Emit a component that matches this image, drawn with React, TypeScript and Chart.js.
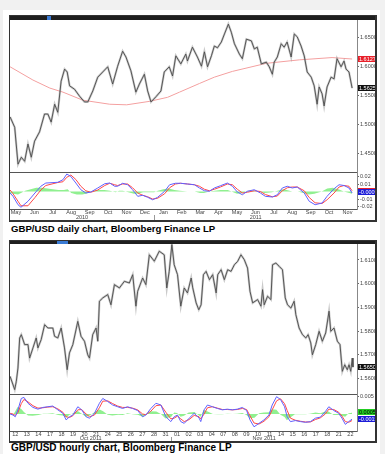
import React, { useEffect, useRef } from 'react';
import { Chart, registerables } from 'chart.js';
Chart.register(...registerables);

const FONT = 'Arial, "Liberation Sans", sans-serif';

// ---------------- DAILY CHART (May 2010 - Nov 2011) ----------------
// x unit: months since 1 May 2010
const dailyMonths = ['May', 'Jun', 'Jul', 'Aug', 'Sep', 'Oct', 'Nov', 'Dec', 'Jan', 'Feb', 'Mar', 'Apr', 'May', 'Jun', 'Jul', 'Aug', 'Sep', 'Oct', 'Nov'];
const dailyYears = ['2010', '2011'];
const dailyYearEdges = [0.175, 8, 19.015];
const dailyPriceTicks = [1.45, 1.5, 1.55, 1.6, 1.65];
const dailyMacdTicks = [0.02, 0.01, -0.01, -0.02];

const dailyT = [0.18, 0.43, 0.61, 0.79, 0.97, 1.15, 1.33, 1.51, 1.78, 2.05, 2.23, 2.41, 2.60, 2.77, 2.95, 3.14, 3.28, 3.41, 3.68, 3.95, 4.22, 4.40, 4.67, 4.94, 5.21, 5.48, 5.75, 6.02, 6.29, 6.47, 6.74, 7.01, 7.20, 7.47, 7.65, 7.83, 8.10, 8.37, 8.55, 8.82, 9.00, 9.18, 9.45, 9.72, 9.81, 10.08, 10.35, 10.57, 10.73, 10.90, 11.11, 11.27, 11.44, 11.65, 11.82, 12.03, 12.19, 12.36, 12.63, 12.79, 13.01, 13.28, 13.44, 13.60, 13.82, 14.09, 14.25, 14.42, 14.52, 14.69, 14.90, 15.06, 15.22, 15.44, 15.61, 15.77, 15.98, 16.15, 16.31, 16.53, 16.69, 16.85, 16.96, 17.12, 17.23, 17.39, 17.61, 17.77, 17.93, 18.15, 18.31, 18.42, 18.58, 18.75];
const dailyClose = [1.513, 1.495, 1.431, 1.443, 1.436, 1.466, 1.443, 1.471, 1.487, 1.518, 1.518, 1.504, 1.535, 1.521, 1.575, 1.596, 1.591, 1.567, 1.561, 1.549, 1.539, 1.539, 1.558, 1.582, 1.591, 1.600, 1.570, 1.601, 1.627, 1.617, 1.593, 1.556, 1.570, 1.587, 1.558, 1.539, 1.548, 1.558, 1.591, 1.600, 1.584, 1.619, 1.605, 1.622, 1.610, 1.634, 1.617, 1.601, 1.626, 1.600, 1.619, 1.636, 1.633, 1.643, 1.657, 1.674, 1.660, 1.640, 1.622, 1.614, 1.648, 1.645, 1.631, 1.634, 1.605, 1.608, 1.600, 1.587, 1.608, 1.617, 1.640, 1.634, 1.643, 1.617, 1.657, 1.652, 1.636, 1.619, 1.591, 1.582, 1.567, 1.535, 1.565, 1.553, 1.532, 1.565, 1.582, 1.579, 1.614, 1.600, 1.610, 1.596, 1.591, 1.563];

const dailyMaT = [0.18, 1.42, 2.34, 3.05, 4.13, 5.59, 6.51, 7.75, 8.73, 9.38, 10.46, 11.27, 12.25, 14.09, 15.88, 17.66, 18.75];
const dailyMa = [1.600, 1.577, 1.563, 1.556, 1.542, 1.535, 1.534, 1.540, 1.547, 1.556, 1.571, 1.582, 1.592, 1.606, 1.612, 1.616, 1.6135];

const dailyMacdT = [0.18, 0.34, 0.61, 0.77, 1.15, 1.53, 1.85, 2.12, 2.77, 3.05, 3.26, 3.48, 3.75, 4.02, 4.29, 4.56, 4.94, 5.32, 5.59, 5.86, 6.02, 6.29, 6.56, 6.83, 7.11, 7.38, 7.65, 7.92, 8.19, 8.57, 8.84, 9.16, 9.43, 9.81, 10.19, 10.46, 10.73, 11.00, 11.27, 11.60, 11.98, 12.25, 12.52, 12.79, 13.06, 13.44, 13.77, 14.04, 14.42, 14.69, 14.96, 15.23, 15.50, 15.77, 16.15, 16.42, 16.74, 17.12, 17.39, 17.77, 18.04, 18.31, 18.58, 18.75];
const dailyMacd = [-0.002, -0.0064, -0.0176, -0.021, -0.013, -0.002, 0.007, 0.0113, 0.0123, 0.0157, 0.0233, 0.020, 0.0113, 0.0024, -0.002, -0.0007, 0.0047, 0.0104, 0.0113, 0.007, 0.007, 0.011, 0.009, 0.0024, -0.0064, -0.005, -0.0077, -0.011, -0.0077, 0.0003, 0.009, 0.011, 0.011, 0.010, 0.009, 0.0047, 0.001, 0.0003, 0.0047, 0.0077, 0.0113, 0.007, -0.0007, -0.0043, 0.0003, 0.0024, -0.002, -0.0064, -0.0073, -0.0043, 0.0047, 0.007, 0.0047, 0.006, -0.002, -0.013, -0.0176, -0.0153, -0.0064, 0.0037, 0.009, 0.008, 0.0047, -0.002];
const dailySignal = [0.002, -0.003, -0.013, -0.019, -0.019, -0.008, 0.002, 0.008, 0.012, 0.013, 0.019, 0.022, 0.016, 0.007, 0.001, -0.001, 0.002, 0.008, 0.011, 0.009, 0.008, 0.010, 0.010, 0.005, -0.002, -0.005, -0.007, -0.010, -0.009, -0.003, 0.005, 0.010, 0.011, 0.010, 0.009, 0.007, 0.003, 0.001, 0.003, 0.006, 0.010, 0.009, 0.003, -0.002, -0.001, 0.001, 0.000, -0.004, -0.007, -0.006, 0.001, 0.005, 0.006, 0.006, 0.001, -0.008, -0.015, -0.016, -0.011, -0.002, 0.006, 0.008, 0.007, 0.001];
const dailyHistT = [0.18, 0.34, 0.61, 0.77, 1.0, 1.3, 1.6, 1.9, 2.2, 2.5, 2.8, 3.1, 3.3, 3.5, 3.8, 4.1, 4.3, 4.6, 4.9, 5.3, 5.6, 5.9, 6.1, 6.3, 6.6, 6.9, 7.1, 7.4, 7.7, 8.0, 8.2, 8.5, 8.8, 9.1, 9.4, 9.8, 10.2, 10.5, 10.7, 11.0, 11.3, 11.6, 12.0, 12.3, 12.5, 12.8, 13.1, 13.4, 13.8, 14.0, 14.4, 14.7, 15.0, 15.2, 15.5, 15.8, 16.1, 16.4, 16.7, 17.1, 17.4, 17.7, 18.0, 18.3, 18.6, 18.75];
const dailyHist = [-0.002, -0.003, -0.004, -0.002, 0.001, 0.003, 0.005, 0.005, 0.004, 0.003, 0.002, 0.002, 0.003, -0.002, -0.004, -0.004, -0.003, 0.000, 0.002, 0.002, 0.001, -0.001, 0.001, 0.001, -0.001, -0.003, -0.003, -0.001, -0.001, -0.001, 0.001, 0.003, 0.004, 0.002, 0.001, 0.000, 0.000, -0.002, -0.002, 0.000, 0.001, 0.002, 0.002, -0.001, -0.003, -0.002, 0.001, 0.001, -0.001, -0.002, -0.001, 0.001, 0.003, 0.002, 0.000, 0.000, -0.002, -0.004, -0.003, 0.000, 0.004, 0.005, 0.003, 0.000, -0.002, -0.003];
const dailyTagValues = [1.6127, 1.5625, 0.001, -0.0009];
const dailyTagTexts = ['1.6127', '1.5625', '0.001', '-0.0009'];

// ---------------- HOURLY CHART (12 Oct - 22 Nov 2011) ----------------
// x unit: trading-day index (0 = 12 Oct)
const hourlyDays = ['12', '13', '14', '17', '18', '19', '20', '21', '24', '25', '26', '27', '28', '31', '01', '02', '03', '04', '07', '08', '09', '10', '11', '14', '15', '16', '17', '18', '21', '22'];
const hourlyMonths = ['Oct 2011', 'Nov 2011'];
const hourlyMonthEdges = [-0.457, 13.5, 29.57];
const hourlyPriceTicks = [1.56, 1.57, 1.58, 1.59, 1.6, 1.61];
const hourlyMacdTicks = [0.005];

const hourlyT = [-0.45, -0.05, 0.09, 0.23, 0.38, 0.52, 0.81, 1.10, 1.24, 1.53, 1.81, 1.96, 2.24, 2.54, 2.82, 3.25, 3.40, 3.68, 3.97, 4.26, 4.49, 4.69, 4.98, 5.41, 5.69, 5.99, 6.27, 6.42, 6.70, 6.99, 7.14, 7.28, 7.57, 8.00, 8.28, 8.58, 9.01, 9.44, 9.87, 10.16, 10.44, 10.59, 11.02, 11.30, 11.60, 12.03, 12.46, 12.89, 13.11, 13.32, 13.55, 13.75, 14.04, 14.32, 14.62, 14.90, 15.22, 15.36, 15.65, 15.88, 16.08, 16.28, 16.51, 16.80, 17.08, 17.38, 17.52, 17.81, 18.09, 18.38, 18.67, 18.96, 19.24, 19.53, 19.82, 20.10, 20.31, 20.54, 20.97, 21.26, 21.40, 21.54, 21.83, 22.12, 22.26, 22.55, 22.84, 23.12, 23.36, 23.56, 23.85, 24.13, 24.28, 24.56, 24.85, 25.14, 25.34, 25.57, 25.71, 26.00, 26.29, 26.57, 26.86, 27.15, 27.30, 27.58, 27.87, 28.10, 28.30, 28.51, 28.73, 28.88, 29.03, 29.16, 29.22];
const hourlyClose = [1.5609, 1.5553, 1.5588, 1.5644, 1.5771, 1.5785, 1.5743, 1.5743, 1.5686, 1.5729, 1.5771, 1.5729, 1.5764, 1.5827, 1.5813, 1.5813, 1.5778, 1.5771, 1.5813, 1.5729, 1.5637, 1.5708, 1.5743, 1.5841, 1.5778, 1.5757, 1.5700, 1.5686, 1.5785, 1.5813, 1.5757, 1.5926, 1.5940, 1.5954, 1.5911, 1.5996, 1.5982, 1.6010, 1.6003, 1.6038, 1.5905, 1.5968, 1.6024, 1.5996, 1.6122, 1.6095, 1.6137, 1.6122, 1.5982, 1.6052, 1.6165, 1.6080, 1.6038, 1.5905, 1.5982, 1.5961, 1.6024, 1.5982, 1.5919, 1.5890, 1.5911, 1.6038, 1.6052, 1.6017, 1.6038, 1.5961, 1.6038, 1.6059, 1.6017, 1.6059, 1.6052, 1.6080, 1.6094, 1.6122, 1.6101, 1.6066, 1.5968, 1.5919, 1.5933, 1.5905, 1.5975, 1.5911, 1.5947, 1.5933, 1.6080, 1.6087, 1.6073, 1.6059, 1.5940, 1.5911, 1.5897, 1.5926, 1.5869, 1.5813, 1.5785, 1.5771, 1.5785, 1.5750, 1.5700, 1.5743, 1.5799, 1.5757, 1.5792, 1.5884, 1.5799, 1.5813, 1.5757, 1.5743, 1.5630, 1.5658, 1.5637, 1.5658, 1.5630, 1.5686, 1.5648];

const hourlyMacdT = [-0.45, -0.20, 0, 0.23, 0.52, 0.75, 1.10, 1.53, 1.96, 2.39, 2.82, 3.25, 3.68, 4.12, 4.40, 4.69, 4.98, 5.41, 5.75, 6.13, 6.42, 6.85, 7.28, 7.57, 8.00, 8.43, 8.86, 9.29, 9.72, 10.15, 10.59, 11.02, 11.30, 11.73, 12.17, 12.60, 13.03, 13.46, 13.75, 14.04, 14.32, 14.62, 15.05, 15.48, 15.91, 16.05, 16.34, 16.63, 17.06, 17.49, 17.92, 18.35, 18.78, 19.21, 19.65, 20.02, 20.31, 20.66, 21.09, 21.52, 21.95, 22.23, 22.61, 22.95, 23.30, 23.53, 23.81, 24.24, 24.68, 25.11, 25.54, 25.97, 26.40, 26.83, 27.13, 27.56, 27.99, 28.27, 28.56, 28.85, 29.14];
const hourlyMacd = [0, -0.0003, -0.0008, 0.0012, 0.0045, 0.0048, 0.0031, 0.0019, 0.0014, 0.0019, 0.0021, 0.0023, 0.0012, 0.0002, -0.0017, -0.0008, -0.0003, 0.0021, 0.0012, -0.0008, -0.0012, 0.0002, 0.0031, 0.0045, 0.0036, 0.0026, 0.0021, 0.0016, 0.0021, 0.0016, 0.001, -0.0008, -0.0003, 0.0016, 0.0031, 0.0026, -0.0008, -0.0022, -0.0008, -0.0003, -0.0022, -0.0027, -0.0012, 0.0002, -0.0012, -0.0022, 0.0012, 0.0026, 0.0021, 0.0016, 0.0012, 0.0014, 0.0012, 0.0014, 0.0019, 0.001, -0.0017, -0.0037, -0.0027, -0.0017, -0.0003, 0.0026, 0.005, 0.0042, 0.0021, -0.0008, -0.0022, -0.0019, -0.0022, -0.0024, -0.0022, -0.0012, -0.0009, 0.0007, 0.0021, 0.001, 0.0002, -0.0012, -0.003, -0.0022, -0.0015];
const hourlySignal = [0.0002, 0.0000, -0.0004, 0.0004, 0.0030, 0.0042, 0.0035, 0.0024, 0.0017, 0.0018, 0.0020, 0.0021, 0.0015, 0.0005, -0.0008, -0.0010, -0.0005, 0.0012, 0.0013, 0.0000, -0.0008, -0.0003, 0.0018, 0.0037, 0.0038, 0.0030, 0.0023, 0.0019, 0.0019, 0.0017, 0.0012, 0.0000, -0.0002, 0.0008, 0.0024, 0.0026, 0.0005, -0.0014, -0.0012, -0.0006, -0.0014, -0.0022, -0.0016, -0.0004, -0.0008, -0.0014, 0.0000, 0.0018, 0.0021, 0.0017, 0.0013, 0.0013, 0.0012, 0.0013, 0.0016, 0.0013, -0.0005, -0.0026, -0.0029, -0.0021, -0.0008, 0.0012, 0.0038, 0.0044, 0.0030, 0.0010, -0.0012, -0.0018, -0.0021, -0.0023, -0.0023, -0.0016, -0.0011, 0.0000, 0.0014, 0.0013, 0.0005, -0.0006, -0.0022, -0.0024, -0.0019];
const hourlyHistT = [-0.45, -0.2, 0.0, 0.2, 0.5, 0.75, 1.1, 1.5, 2.0, 2.4, 2.8, 3.25, 3.7, 4.1, 4.4, 4.7, 5.0, 5.4, 5.75, 6.1, 6.4, 6.85, 7.3, 7.6, 8.0, 8.4, 8.9, 9.3, 9.7, 10.15, 10.6, 11.0, 11.3, 11.7, 12.2, 12.6, 13.0, 13.5, 13.75, 14.0, 14.3, 14.6, 15.0, 15.5, 15.9, 16.05, 16.3, 16.6, 17.1, 17.5, 17.9, 18.35, 18.8, 19.2, 19.65, 20.0, 20.3, 20.7, 21.1, 21.5, 21.95, 22.2, 22.6, 22.95, 23.3, 23.5, 23.8, 24.2, 24.7, 25.1, 25.5, 25.97, 26.4, 26.8, 27.1, 27.55, 28.0, 28.3, 28.55, 28.85, 29.14];
const hourlyHist = [0, -0.0003, 0.0008, 0.0020, 0.0015, 0.0006, -0.0004, -0.0005, -0.0003, 0.0001, 0.0001, 0.0002, -0.0003, -0.0004, -0.0010, -0.0002, 0.0002, 0.0009, 0.0001, -0.0008, -0.0005, 0.0005, 0.0013, 0.0008, -0.0002, -0.0004, -0.0002, -0.0003, 0.0002, -0.0001, -0.0002, -0.0008, -0.0001, 0.0008, 0.0007, 0.0000, -0.0013, -0.0008, 0.0004, 0.0003, -0.0008, -0.0005, 0.0004, 0.0006, -0.0004, -0.0008, 0.0012, 0.0008, 0.0000, -0.0001, -0.0001, 0.0001, 0.0000, 0.0001, 0.0003, -0.0003, -0.0012, -0.0011, 0.0002, 0.0004, 0.0005, 0.0014, 0.0012, -0.0002, -0.0009, -0.0018, -0.0010, -0.0001, -0.0001, -0.0001, 0.0001, 0.0004, 0.0002, 0.0007, 0.0007, -0.0003, -0.0003, -0.0006, -0.0008, 0.0002, 0.0004];
const hourlyTagValues = [1.5650, 0.00058, -0.00153];
const hourlyTagTexts = ['1.5650', '0.00058', '-0.00153'];

// ---------------------------------------------------------------------
const pts = (xs: number[], ys: number[]) => xs.map((x, i) => ({ x, y: ys[i] }));

function makeConfig(p: any) {
  const tickFont = { family: FONT, size: 5.5 };
  const decor = {
    id: 'decor',
    afterDraw(chart: any) {
      const { ctx, chartArea } = chart;
      const xs = chart.scales.x;
      const yP = chart.scales.yP;
      ctx.save();
      ctx.strokeStyle = '#555';
      ctx.lineWidth = 1;
      const sy = Math.round(yP.bottom) + 0.5;
      ctx.beginPath();
      ctx.moveTo(chartArea.left, sy);
      ctx.lineTo(chartArea.right, sy);
      ctx.stroke();
      // period labels under the x axis
      ctx.font = `5.5px ${FONT}`;
      ctx.fillStyle = '#444';
      ctx.textAlign = 'center';
      ctx.textBaseline = 'bottom';
      p.spanLabels.forEach((lab: string, i: number) => {
        const a = xs.getPixelForValue(p.spanEdges[i]);
        const b = xs.getPixelForValue(p.spanEdges[i + 1]);
        ctx.fillText(lab, (a + b) / 2, xs.bottom);
      });
      ctx.strokeStyle = '#999';
      p.spanEdges.slice(1, -1).forEach((v: number) => {
        const px = Math.round(xs.getPixelForValue(v)) + 0.5;
        ctx.beginPath();
        ctx.moveTo(px, xs.top + 6);
        ctx.lineTo(px, xs.bottom);
        ctx.stroke();
      });
      // value tags on the right axis
      ctx.textAlign = 'left';
      ctx.textBaseline = 'middle';
      p.tags.forEach((t: any, i: number) => {
        const sc = chart.scales[t.axis];
        const y = Math.round(sc.getPixelForValue(p.tagValues[i]));
        const x0 = chartArea.right + 1;
        ctx.fillStyle = t.bg;
        ctx.fillRect(x0, y - 3, 19, 6);
        ctx.fillStyle = t.fg;
        ctx.fillText(p.tagTexts[i], x0 + 1, y + 0.5);
      });
      ctx.restore();
    },
  };

  const yCommon = (ticks: number[], fmt: (v: number) => string) => ({
    type: 'linear',
    position: 'right',
    stack: 'panel',
    afterBuildTicks: (s: any) => { s.ticks = ticks.map((v) => ({ value: v })); },
    afterFit: (s: any) => { s.width = 18; s.paddingTop = 0; s.paddingBottom = 0; },
    ticks: { callback: (v: any) => fmt(Number(v)), font: tickFont, color: '#444', padding: 1, autoSkip: false },
    grid: { drawOnChartArea: false, tickLength: 2, color: '#666' },
    border: { display: true, color: '#888' },
  });

  const datasets: any[] = [
    { data: pts(p.closeT, p.close), borderColor: '#4a4a4a', borderWidth: 0.9, yAxisID: 'yP' },
    { data: pts(p.closeT, p.close), borderColor: 'rgba(150,150,150,0.5)', borderWidth: 2.2, yAxisID: 'yP' },
  ];
  if (p.maT) datasets.push({ data: pts(p.maT, p.ma), borderColor: '#f4a0a0', borderWidth: 1, yAxisID: 'yP' });
  datasets.push(
    { data: pts(p.macdT, p.macd), borderColor: '#6060ff', borderWidth: 1, yAxisID: 'yM' },
    { data: pts(p.macdT, p.signal), borderColor: '#ff4848', borderWidth: 1, yAxisID: 'yM' },
    { data: pts(p.histT, p.hist), borderColor: 'rgba(0,0,0,0)', borderWidth: 0, backgroundColor: '#90f090', fill: 'origin', yAxisID: 'yM' },
  );

  return {
    type: 'line',
    data: { datasets },
    options: {
      animation: false,
      responsive: false,
      devicePixelRatio: 1,
      layout: { padding: 0 },
      plugins: { legend: { display: false }, tooltip: { enabled: false } },
      elements: { point: { radius: 0 }, line: { tension: 0 } },
      scales: {
        x: {
          type: 'linear',
          min: p.xMin,
          max: p.xMax,
          afterBuildTicks: (s: any) => { s.ticks = p.xTicks.map((v: number) => ({ value: v })); },
          afterFit: (s: any) => { s.height = p.xAxisH; s.paddingLeft = 0; s.paddingRight = 0; },
          ticks: { callback: (_v: any, i: number) => p.xLabels[i], font: tickFont, color: '#444', padding: 0, maxRotation: 0, autoSkip: false },
          grid: { display: false, drawTicks: false },
          border: { display: true, color: '#555' },
        },
        yP: { ...yCommon(p.priceTicks, (v) => v.toFixed(4)), min: p.priceMin, max: p.priceMax, stackWeight: p.priceWeight },
        yM: { ...yCommon(p.macdTicks, (v) => String(v)), min: p.macdMin, max: p.macdMax, stackWeight: p.macdWeight },
      },
    },
    plugins: [decor],
  };
}

const dailyCfg = {
  w: 365, h: 200, xAxisH: 11, priceWeight: 152, macdWeight: 37,
  xMin: 0.175, xMax: 19.015,
  xTicks: dailyMonths.map((_, i) => i + 0.5), xLabels: dailyMonths,
  spanLabels: dailyYears, spanEdges: dailyYearEdges,
  priceMin: 1.4174, priceMax: 1.6812, priceTicks: dailyPriceTicks,
  macdMin: -0.0233, macdMax: 0.026, macdTicks: dailyMacdTicks,
  closeT: dailyT, close: dailyClose, maT: dailyMaT, ma: dailyMa,
  macdT: dailyMacdT, macd: dailyMacd, signal: dailySignal, histT: dailyHistT, hist: dailyHist,
  tagValues: dailyTagValues, tagTexts: dailyTagTexts,
  tags: [
    { axis: 'yP', bg: '#e8202a', fg: '#fff' },
    { axis: 'yP', bg: '#111', fg: '#fff' },
    { axis: 'yM', bg: '#e8202a', fg: '#fff' },
    { axis: 'yM', bg: '#1c1cd8', fg: '#fff' },
  ],
};

const hourlyCfg = {
  w: 365, h: 197, xAxisH: 10, priceWeight: 150, macdWeight: 37,
  xMin: -0.457, xMax: 29.57,
  xTicks: hourlyDays.map((_, i) => i), xLabels: hourlyDays,
  spanLabels: hourlyMonths, spanEdges: hourlyMonthEdges,
  priceMin: 1.55345, priceMax: 1.61675, priceTicks: hourlyPriceTicks,
  macdMin: -0.00491, macdMax: 0.00578, macdTicks: hourlyMacdTicks,
  closeT: hourlyT, close: hourlyClose,
  macdT: hourlyMacdT, macd: hourlyMacd, signal: hourlySignal, histT: hourlyHistT, hist: hourlyHist,
  tagValues: hourlyTagValues, tagTexts: hourlyTagTexts,
  tags: [
    { axis: 'yP', bg: '#111', fg: '#fff' },
    { axis: 'yM', bg: '#22cc22', fg: '#000' },
    { axis: 'yM', bg: '#1c1cd8', fg: '#fff' },
  ],
};

function Panel({ cfg, left, top }: any) {
  const ref = useRef<HTMLCanvasElement | null>(null);
  useEffect(() => {
    const chart = new Chart(ref.current as HTMLCanvasElement, makeConfig(cfg) as any);
    return () => chart.destroy();
  }, []);
  return (
    <canvas
      ref={ref}
      width={cfg.w}
      height={cfg.h}
      style={{ position: 'absolute', left, top, width: cfg.w, height: cfg.h, background: '#fff' }}
    />
  );
}

const abs = (o: any) => ({ position: 'absolute' as const, ...o });

export default function App() {
  return (
    <div style={{ position: 'fixed', left: 0, top: 0, width: 385, height: 454, background: '#f1f1f1', overflow: 'hidden', fontFamily: FONT }}>
      <div style={abs({ left: 3, top: 10, width: 377, height: 444, background: '#fff' })} />
      {/* daily frame */}
      <div style={abs({ left: 9, top: 15, width: 368, height: 207, boxSizing: 'border-box', border: '1px solid #333', borderRightWidth: 2, borderBottomWidth: 2, background: '#fff' })} />
      <div style={abs({ left: 10, top: 16, width: 365, height: 4, background: '#1f1f1f' })} />
      <div style={abs({ left: 47, top: 16, width: 4, height: 4, background: '#3a7bd5' })} />
      <Panel cfg={dailyCfg} left={10} top={20} />
      <div style={abs({ left: 11, top: 223, fontSize: 9.6, lineHeight: '12px', fontWeight: 'bold', color: '#000', whiteSpace: 'nowrap' })}>GBP/USD daily chart, Bloomberg Finance LP</div>
      {/* hourly frame */}
      <div style={abs({ left: 9, top: 240, width: 368, height: 203, boxSizing: 'border-box', border: '1px solid #333', borderRightWidth: 2, borderBottomWidth: 2, background: '#fff' })} />
      <div style={abs({ left: 10, top: 241, width: 365, height: 3, background: '#1f1f1f' })} />
      <div style={abs({ left: 57, top: 241, width: 11, height: 3, background: '#3a7bd5' })} />
      <Panel cfg={hourlyCfg} left={10} top={244} />
      <div style={abs({ left: 11, top: 442, fontSize: 10, lineHeight: '12px', fontWeight: 'bold', color: '#000', whiteSpace: 'nowrap' })}>GBP/USD hourly chart, Bloomberg Finance LP</div>
    </div>
  );
}
